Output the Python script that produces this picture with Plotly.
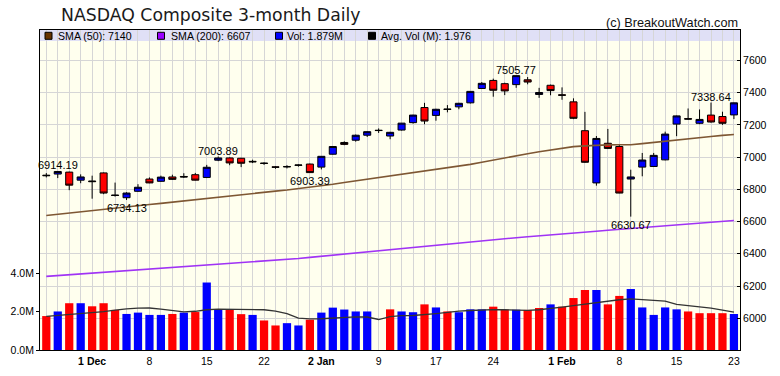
import plotly.graph_objects as go

# ---------------- data ----------------
dates = [
    "2017-11-27", "2017-11-28", "2017-11-29", "2017-11-30",
    "2017-12-01", "2017-12-04", "2017-12-05", "2017-12-06", "2017-12-07", "2017-12-08",
    "2017-12-11", "2017-12-12", "2017-12-13", "2017-12-14", "2017-12-15",
    "2017-12-18", "2017-12-19", "2017-12-20", "2017-12-21", "2017-12-22",
    "2017-12-26", "2017-12-27", "2017-12-28", "2017-12-29",
    "2018-01-02", "2018-01-03", "2018-01-04", "2018-01-05",
    "2018-01-08", "2018-01-09", "2018-01-10", "2018-01-11", "2018-01-12",
    "2018-01-16", "2018-01-17", "2018-01-18", "2018-01-19",
    "2018-01-22", "2018-01-23", "2018-01-24", "2018-01-25", "2018-01-26",
    "2018-01-29", "2018-01-30", "2018-01-31", "2018-02-01", "2018-02-02",
    "2018-02-05", "2018-02-06", "2018-02-07", "2018-02-08", "2018-02-09",
    "2018-02-12", "2018-02-13", "2018-02-14", "2018-02-15", "2018-02-16",
    "2018-02-20", "2018-02-21", "2018-02-22", "2018-02-23",
]

open_ = [6888, 6895, 6907, 6857, 6852, 6902, 6765, 6748, 6788, 6864,
         6850, 6877, 6880, 6891, 6874, 6981, 6995, 6993, 6974, 6963,
         6940, 6942, 6949, 6957, 6938, 7018, 7091, 7105, 7136, 7167,
         7131, 7168, 7214, 7308, 7259, 7299, 7312, 7337, 7426, 7476,
         7456, 7450, 7480, 7389, 7446, 7387, 7343, 7164, 6840, 7086,
         7066, 6864, 6938, 6942, 6983, 7205, 7239, 7210, 7261, 7252,
         7262]
high = [6901, 6914.19, 6910, 6893, 6885, 6905, 6842, 6782, 6832, 6874,
        6885, 6891, 6900, 6902, 6952, 7003.89, 6999, 6996, 6984, 6968,
        6945, 6950, 6955, 6960, 7007, 7069, 7098, 7140, 7160, 7178,
        7157, 7212, 7263, 7337, 7300, 7323, 7337, 7410, 7466, 7487,
        7462, 7505.77, 7497, 7430, 7450, 7433, 7365, 7281, 7131, 7175,
        7076, 6922, 7026, 7026, 7158, 7258, 7302, 7296, 7338.64, 7282,
        7338]
low = [6874, 6870, 6795, 6838, 6742, 6770, 6755, 6734.13, 6785, 6838,
       6847, 6858, 6871, 6855, 6870, 6975, 6950, 6938, 6963, 6952,
       6928, 6930, 6941, 6903.39, 6924, 7016, 7074, 7096, 7125, 7150,
       7111, 7165, 7208, 7204, 7226, 7278, 7297, 7333, 7424, 7375,
       7385, 7430, 7452, 7368, 7384, 7356, 7236, 6965, 6823, 7050,
       6776, 6630.67, 6881, 6940, 6980, 7130, 7233, 7204, 7214, 7200,
       7236]
close = [6885, 6911, 6826, 6877, 6848, 6777, 6762, 6777, 6813, 6840,
         6876, 6862, 6877, 6857, 6937, 6995, 6964, 6962, 6971, 6961,
         6937, 6940, 6951, 6904, 7005, 7066, 7079, 7136, 7158, 7165,
         7154, 7211, 7261, 7224, 7297, 7296, 7334, 7408, 7458, 7415,
         7411, 7505.77, 7466, 7401, 7413, 7384, 7241, 6968, 7116, 7054,
         6777, 6877, 6982, 7011, 7143, 7256, 7236, 7234, 7218, 7210,
         7337]

# volume in millions and its bar colour (u = blue, d = red)
volume_m = [1.77, 2.01, 2.44, 2.44, 2.28, 2.44, 2.09, 1.88, 1.95, 1.83,
            1.83, 1.88, 1.95, 1.98, 3.52, 2.14, 2.12, 1.87, 1.83, 1.54,
            1.28, 1.40, 1.28, 1.58, 1.95, 2.21, 2.11, 2.01, 2.01, 0.0,
            2.12, 2.01, 1.97, 2.38, 2.22, 2.01, 1.97, 2.12, 2.12, 2.26,
            2.10, 2.10, 2.09, 2.19, 2.38, 2.26, 2.71, 3.13, 3.13, 2.38,
            2.82, 3.18, 2.22, 1.83, 2.22, 2.12, 2.01, 1.92, 1.92, 1.92,
            1.879]
volume_dir = ["d", "u", "d", "u", "d", "d", "d", "u", "u", "u",
              "u", "d", "u", "d", "u", "u", "d", "d", "u", "d",
              "d", "u", "u", "d", "u", "u", "u", "u", "u", "u",
              "d", "u", "u", "d", "u", "d", "u", "u", "u", "d",
              "d", "u", "d", "d", "u", "d", "d", "d", "u", "d",
              "d", "u", "u", "u", "u", "u", "d", "d", "d", "d",
              "u"]

sma50 = [6638, 6646, 6653, 6661, 6668, 6676, 6683, 6691, 6698, 6706,
         6713, 6721, 6728, 6736, 6744, 6751, 6759, 6766, 6774, 6781,
         6789, 6796, 6804, 6812, 6822, 6832, 6843, 6853, 6864, 6874,
         6884, 6894, 6905, 6915, 6925, 6935, 6945, 6955, 6968, 6982,
         6996, 7010, 7021, 7033, 7045, 7057, 7065, 7070, 7075, 7076,
         7077, 7077, 7084, 7092, 7100, 7107, 7114, 7121, 7128, 7135,
         7140]
sma200 = [6260, 6265, 6270, 6275, 6280, 6285, 6289, 6294, 6299, 6304,
          6309, 6314, 6319, 6324, 6329, 6334, 6338, 6343, 6348, 6353,
          6358, 6365, 6371, 6378, 6385, 6391, 6398, 6405, 6412, 6418,
          6425, 6432, 6439, 6446, 6453, 6460, 6466, 6473, 6480, 6487,
          6494, 6500, 6506, 6511, 6517, 6523, 6529, 6535, 6540, 6546,
          6552, 6558, 6563, 6569, 6574, 6580, 6585, 6591, 6596, 6602,
          6607]
avg_vol = [1.75, 1.80, 1.85, 1.88, 1.93, 2.00, 2.08, 2.15, 2.18, 2.19,
           2.13, 2.05, 1.99, 2.02, 2.10, 2.13, 2.13, 2.13, 2.12, 2.10,
           2.03, 1.90, 1.66, 1.62, 1.63, 1.66, 1.70, 1.73, 1.72, 1.59,
           1.74, 1.79, 1.80, 1.84, 1.90, 1.96, 2.03, 2.06, 2.09, 2.11,
           2.10, 2.09, 2.07, 2.10, 2.16, 2.24, 2.32, 2.40, 2.48, 2.56,
           2.62, 2.67, 2.64, 2.60, 2.55, 2.38, 2.32, 2.26, 2.18, 2.08,
           1.976]

tick_dates = ["2017-12-01", "2017-12-08", "2017-12-15", "2017-12-22",
              "2018-01-02", "2018-01-09", "2018-01-17", "2018-01-24",
              "2018-02-01", "2018-02-08", "2018-02-15", "2018-02-23"]
tick_texts = ["<b>1 Dec</b>", "8", "15", "22", "<b>2 Jan</b>", "9", "17", "24",
              "<b>1 Feb</b>", "8", "15", "23"]

price_ticks = [6000, 6200, 6400, 6600, 6800, 7000, 7200, 7400, 7600]
vol_ticks = [0, 2, 4]
vol_tick_texts = ["0.0M", "2.0M", "4.0M"]

# labelled extremes: (date, which)
marked = [("2017-11-28", "high"), ("2017-12-06", "low"), ("2017-12-18", "high"),
          ("2017-12-29", "low"), ("2018-01-26", "high"), ("2018-02-09", "low"),
          ("2018-02-21", "high")]

title_text = "NASDAQ Composite 3-month Daily"
credit_text = "(c) BreakoutWatch.com"

# ---------------- styling ----------------
W, H = 780, 376
ML, MR, MT, MB = 40, 40, 30, 26
PW, PH = W - ML - MR, H - MT - MB
BLUE, RED = "#0000FF", "#FF0000"
ARIAL = "Liberation Sans, Arial, sans-serif"
GRID = "#D6D6D6"


def px_x(px):
    return (px - ML) / PW


def px_y(py):
    return (H - MB - py) / PH


fig = go.Figure()

fig.add_trace(go.Scatter(x=dates, y=sma200, mode="lines",
                         line=dict(color="#A033F5", width=1.6),
                         hoverinfo="skip", showlegend=False, yaxis="y"))
fig.add_trace(go.Scatter(x=dates, y=sma50, mode="lines",
                         line=dict(color="#7E5733", width=1.6),
                         hoverinfo="skip", showlegend=False, yaxis="y"))
fig.add_trace(go.Candlestick(
    x=dates, open=open_, high=high, low=low, close=close,
    increasing=dict(line=dict(color="black", width=1), fillcolor=BLUE),
    decreasing=dict(line=dict(color="black", width=1), fillcolor=RED),
    whiskerwidth=0, showlegend=False, yaxis="y"))

fig.add_trace(go.Bar(x=dates, y=volume_m,
                     marker=dict(color=[BLUE if d == "u" else RED for d in volume_dir],
                                 line=dict(width=0)),
                     width=0.72, showlegend=False, yaxis="y2"))
fig.add_trace(go.Scatter(x=dates, y=avg_vol, mode="lines",
                         line=dict(color="#333333", width=1.3),
                         showlegend=False, yaxis="y2"))

annotations = []
for d, which in marked:
    i = dates.index(d)
    val = high[i] if which == "high" else low[i]
    annotations.append(dict(
        x=d, y=val, xref="x", yref="y", text=f"{val:.2f}", showarrow=False,
        yanchor="bottom" if which == "high" else "top",
        yshift=-2 if which == "high" else 0,
        font=dict(family=ARIAL, size=11, color="black")))

annotations.append(dict(
    x=1.0, y=px_y(22.5), xref="paper", yref="paper", text=credit_text,
    xanchor="right", yanchor="middle", showarrow=False,
    font=dict(family=ARIAL, size=12.7, color="#111111")))

legend_items = [
    ("#663300", f"SMA (50): {sma50[-1]}", 45, 57.3),
    ("#9900FF", f"SMA (200): {sma200[-1]}", 157.5, 170),
    (BLUE, f"Vol: {volume_m[-1]:.3f}M", 275.5, 286.7),
    ("#000000", f"Avg. Vol (M): {avg_vol[-1]:.3f}", 368.5, 380),
]

shapes = [dict(type="rect", xref="paper", yref="paper", x0=0, x1=1,
               y0=px_y(41), y1=1, fillcolor="#E0E0F6", line=dict(width=0),
               layer="below")]
for color, text, bx, tx in legend_items:
    shapes.append(dict(type="rect", xref="paper", yref="paper",
                       x0=px_x(bx), x1=px_x(bx + 7), y0=px_y(39.3), y1=px_y(32.3),
                       fillcolor=color, line=dict(color="black", width=1),
                       layer="above"))
    annotations.append(dict(x=px_x(tx - 1.5), y=px_y(35.5), xref="paper", yref="paper",
                            text=text, xanchor="left", yanchor="middle",
                            showarrow=False,
                            font=dict(family=ARIAL, size=10.6, color="black")))

tick_text_all = [tick_texts[tick_dates.index(d)] if d in tick_dates else "" for d in dates]

fig.update_layout(
    width=W, height=H,
    margin=dict(l=ML, r=MR, t=MT, b=MB, pad=0, autoexpand=False),
    paper_bgcolor="white", plot_bgcolor="#FFFFEE",
    boxgap=0.12,
    title=dict(text=title_text, x=61 / W, xanchor="left", xref="container",
               y=1 - 15 / H, yanchor="middle", yref="container",
               font=dict(family="DejaVu Sans", size=17.3, color="#1a1a1a")),
    xaxis=dict(type="category", range=[-0.55, 60.53],
               tickvals=dates, ticktext=tick_text_all, automargin=False,
               showgrid=True, gridcolor=GRID, gridwidth=1,
               showline=True, linecolor="black", linewidth=1, mirror=True,
               ticks="outside", ticklen=1, tickcolor="rgba(0,0,0,0)",
               tickfont=dict(family=ARIAL, size=10.5, color="black"),
               rangeslider=dict(visible=False), fixedrange=True),
    yaxis=dict(side="right", range=[5803, 7789], tickvals=price_ticks,
               automargin=False,
               showgrid=True, gridcolor=GRID, gridwidth=1, zeroline=False,
               showline=True, linecolor="black", linewidth=1,
               ticks="inside", ticklen=3, tickcolor="black",
               tickfont=dict(family=ARIAL, size=10.5, color="black")),
    yaxis2=dict(overlaying="y", side="left", range=[0, 16.69],
                tickvals=vol_ticks, ticktext=vol_tick_texts, automargin=False,
                showgrid=False, zeroline=False,
                showline=True, linecolor="black", linewidth=1,
                ticks="outside", ticklen=3, tickcolor="black",
                tickfont=dict(family=ARIAL, size=10.5, color="black")),
    annotations=annotations,
    shapes=shapes,
    showlegend=False,
    hovermode=False,
)

fig.write_html("out.html", config={"displayModeBar": False},
               post_script="document.body.style.margin='0px';document.body.style.overflow='hidden';")
